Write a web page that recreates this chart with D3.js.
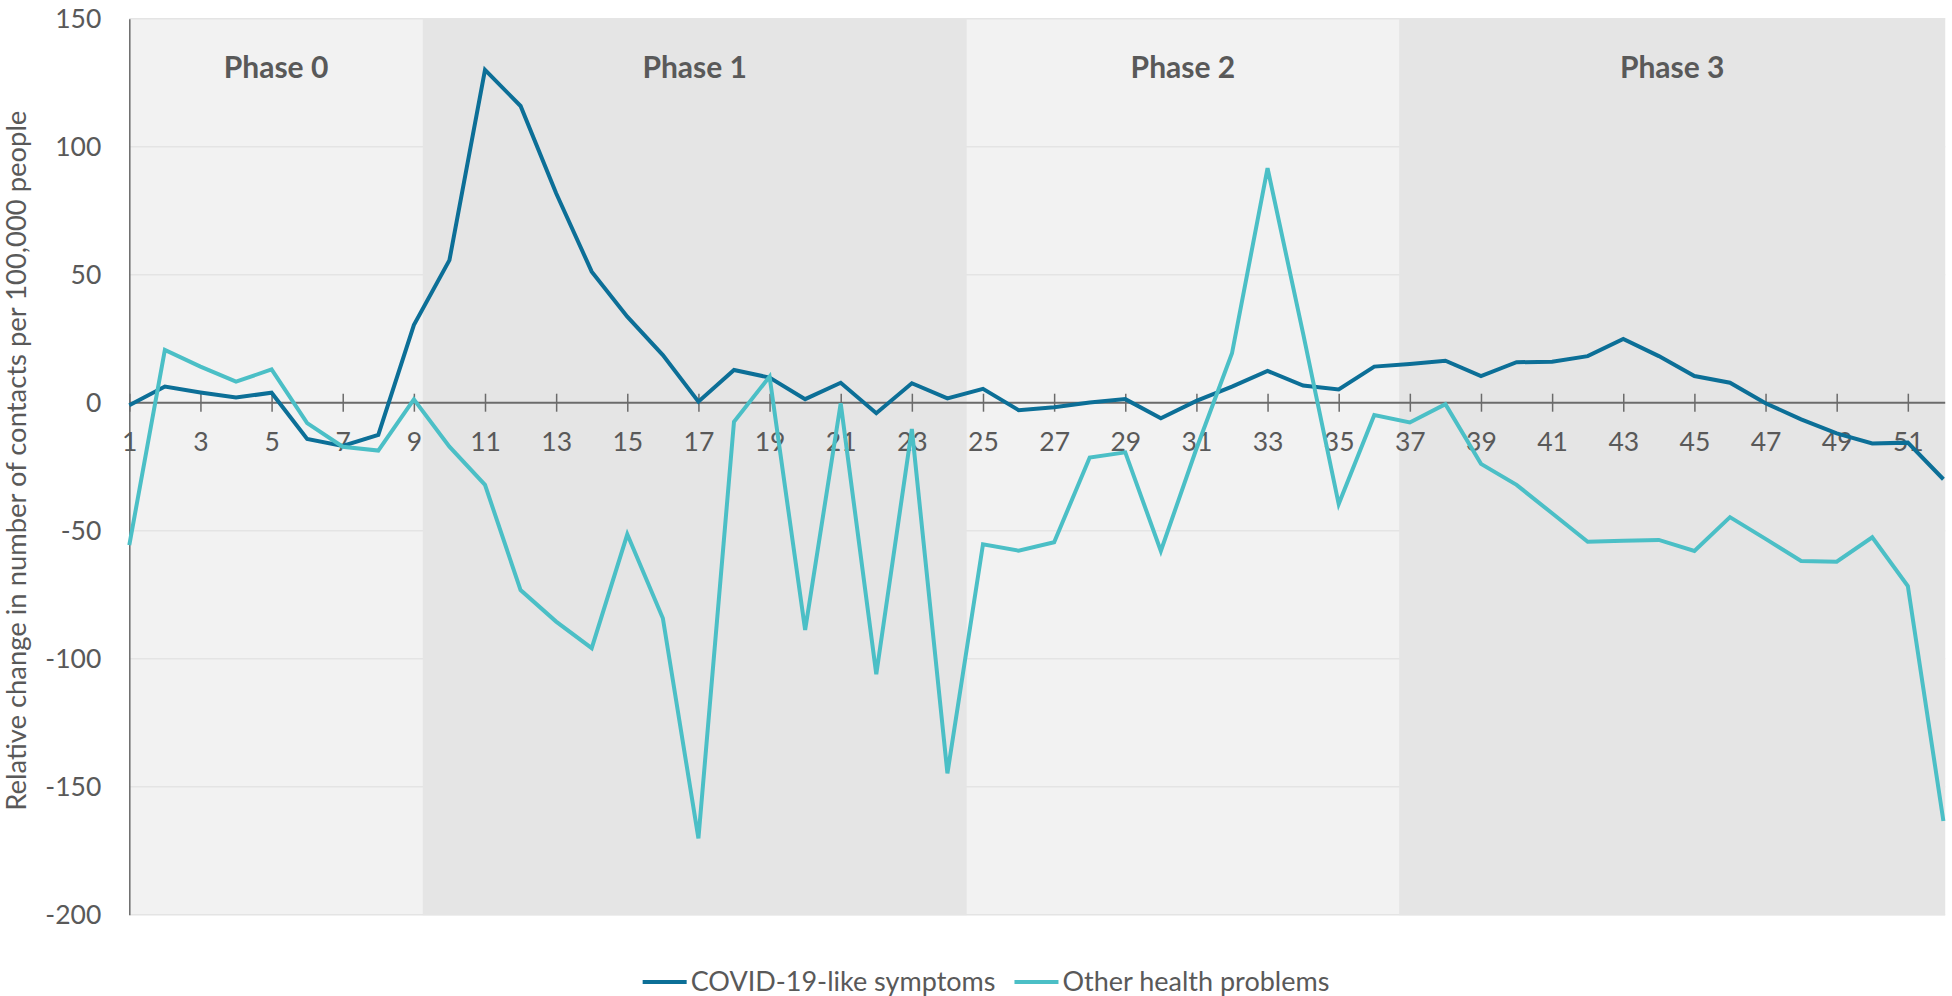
<!DOCTYPE html>
<html>
<head>
<meta charset="utf-8">
<script src="https://cdn.jsdelivr.net/npm/d3@7"></script>
<style>
  html, body { margin: 0; padding: 0; background: #fff; }
  svg { display: block; font-family: Lato, "Open Sans", sans-serif; }
</style>
</head>
<body>
<svg id="chart" width="1952" height="996"></svg>
<script>
// weeks 1..52
const weeks = d3.range(1, 53);
const covid = [-1, 6.3, 4, 2, 3.9, -14.2, -16.9, -12.6, 30.3, 55.7,
  130, 115.9, 81.8, 51.2, 33.6, 18.6, 0.4, 12.8, 9.8, 1.4,
  7.8, -4.1, 7.6, 1.7, 5.4, -2.9, -1.8, 0.1, 1.4, -6.1,
  0.7, 6.3, 12.4, 6.7, 5.2, 14.1, 15.1, 16.4, 10.4, 15.8,
  16, 18.2, 24.9, 18.2, 10.4, 7.8, -0.2, -6.5, -12, -15.9,
  -15.6, -29.9];
const other = [-55.6, 20.6, 14.1, 8.2, 13, -8, -17.2, -18.7, 1.3, -17.2,
  -32.1, -73.2, -85.5, -95.9, -51.4, -84.2, -170.2, -7.4, 10.2, -88.8,
  -0.2, -106.1, -10.3, -144.8, -55.3, -57.8, -54.5, -21.4, -19.4, -57.9,
  -18, 19.3, 91.6, 27, -39.6, -4.8, -7.7, -0.6, -23.9, -32.1,
  -43.2, -54.3, -53.9, -53.6, -57.9, -44.7, -53.2, -61.8, -62.1, -52.6,
  -71.6, -163.4];
const phaseNames = ["Phase 0", "Phase 1", "Phase 2", "Phase 3"];
const phaseStart = [1, 9.25, 24.54, 36.7];
const phaseEnd = [9.25, 24.54, 36.7, 52.05];
const yTicks = [-200, -150, -100, -50, 0, 50, 100, 150];
const xTicks = weeks.filter(d => d % 2 === 1);
const seriesNames = ["COVID-19-like symptoms", "Other health problems"];

const colors = ["#0c6f97", "#4bbfc6"];
const textColor = "#595959";

const svg = d3.select("#chart");
const W = 1952, H = 996;
const box = { left: 129.3, right: 1943.4, top: 18.7, bottom: 914.7 };

const x = d3.scaleLinear().domain([1, 52]).range([box.left, box.right]);
const y = d3.scaleLinear().domain([-200, 150]).range([box.bottom, box.top]);

svg.append("rect").attr("width", W).attr("height", H).attr("fill", "#fff");

// fondo del área (bandas claras)
svg.append("rect")
  .attr("x", box.left).attr("y", box.top)
  .attr("width", x(52.05) - box.left).attr("height", box.bottom - box.top)
  .attr("fill", "#f2f2f2");

// gridlines
svg.append("g").selectAll("line")
  .data(yTicks)
  .join("line")
  .attr("x1", box.left).attr("x2", x(52.05))
  .attr("y1", d => y(d)).attr("y2", d => y(d))
  .attr("stroke", "#e4e4e4").attr("stroke-width", 1.5);

// bandas oscuras: fase 1 y 3
const phases = phaseNames.map((n, i) => ({ name: n, s: phaseStart[i], e: phaseEnd[i], dark: i % 2 === 1 }));
svg.append("g").selectAll("rect")
  .data(phases.filter(p => p.dark))
  .join("rect")
  .attr("x", d => x(d.s)).attr("y", box.top - 0.5)
  .attr("width", d => x(d.e) - x(d.s)).attr("height", box.bottom - box.top + 1)
  .attr("fill", "#e5e5e5");

// phase labels
svg.append("g").selectAll("text")
  .data(phases)
  .join("text")
  .attr("x", d => (x(d.s) + x(d.e)) / 2)
  .attr("y", 67)
  .attr("dy", "0.35em")
  .attr("text-anchor", "middle")
  .attr("font-size", 30)
  .attr("font-weight", "bold")
  .attr("fill", textColor)
  .text(d => d.name);

// y axis
const yAxis = svg.append("g")
  .attr("transform", `translate(${box.left},0)`)
  .call(d3.axisLeft(y).tickValues(yTicks).tickFormat(d => String(d)).tickSize(0).tickPadding(28));
yAxis.select(".domain").attr("stroke", "#6b6b6b").attr("stroke-width", 1.5);
yAxis.selectAll("text").attr("font-size", 26.5).attr("fill", textColor)
  .attr("font-family", "Lato, sans-serif");

// x axis at zero
const xAxis = svg.append("g")
  .attr("transform", `translate(0,${y(0)})`)
  .call(d3.axisBottom(x).tickValues(xTicks).tickFormat(d3.format("d")).tickSizeOuter(0));
xAxis.select(".domain").attr("d", `M${box.left},0H${x(52.05)}`)
  .attr("stroke", "#6b6b6b").attr("stroke-width", 2);
xAxis.selectAll(".tick line").attr("y1", -9).attr("y2", 9)
  .attr("stroke", "#6b6b6b").attr("stroke-width", 1.5);
xAxis.selectAll(".tick text").attr("y", 39).attr("dy", "0.35em")
  .attr("font-size", 26.5).attr("fill", textColor)
  .attr("font-family", "Lato, sans-serif");

// y title
svg.append("text")
  .attr("transform", `translate(16,${(box.top + box.bottom) / 2 - 6}) rotate(-90)`)
  .attr("text-anchor", "middle")
  .attr("dy", "0.35em")
  .attr("font-size", 27.4)
  .attr("fill", textColor)
  .text("Relative change in number of contacts per 100,000 people");

// lines
const line = d3.line().x((d, i) => x(weeks[i])).y(d => y(d));
[covid, other].forEach((s, k) => {
  svg.append("path")
    .datum(s)
    .attr("d", line)
    .attr("fill", "none")
    .attr("stroke", colors[k])
    .attr("stroke-width", 4)
    .attr("stroke-linejoin", "miter");
});

// legend
const legend = svg.append("g");
const lineLen = 44, gapText = 4, gapItem = 19, legY = 982;
const items = legend.selectAll("g").data(seriesNames).join("g");
items.append("line")
  .attr("x1", 0).attr("x2", lineLen)
  .attr("y1", 0).attr("y2", 0)
  .attr("stroke", (d, i) => colors[i]).attr("stroke-width", 4);
items.append("text")
  .attr("x", lineLen + gapText).attr("dy", "0.35em")
  .attr("font-size", 27).attr("fill", textColor)
  .text(d => d);
let widths = [];
items.each(function () { widths.push(this.getBBox().width); });
const total = d3.sum(widths) + gapItem * (widths.length - 1);
let cx = 986 - total / 2;
items.attr("transform", (d, i) => {
  const t = `translate(${cx},${legY})`;
  cx += widths[i] + gapItem;
  return t;
});
</script>
</body>
</html>
